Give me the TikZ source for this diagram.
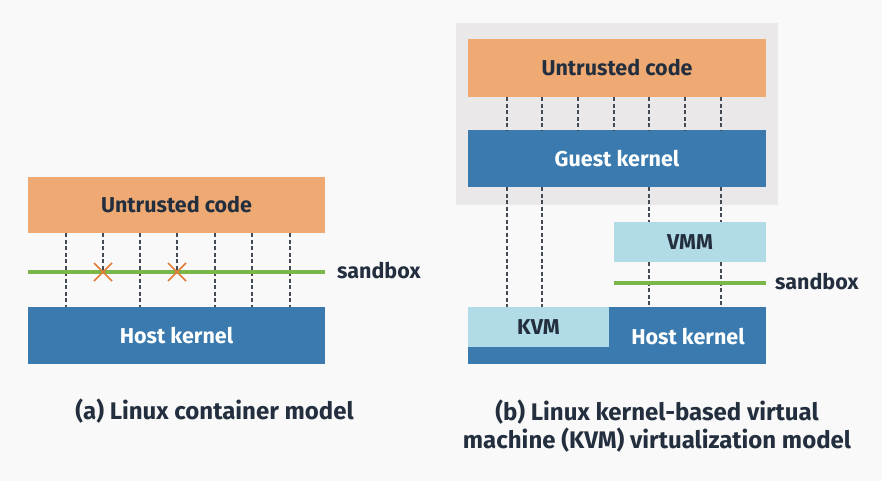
\documentclass[tikz,border=0pt]{standalone}
\usepackage{fontspec}
\setmainfont{Fira Sans}
\usetikzlibrary{calc}
\definecolor{pagebg}{HTML}{F9F9F9}
\definecolor{orangebox}{HTML}{EEAA72}
\definecolor{bluebox}{HTML}{3A7AAF}
\definecolor{lightbox}{HTML}{B1DCE7}
\definecolor{greybg}{HTML}{EAE8E8}
\definecolor{sandgreen}{HTML}{7AB648}
\definecolor{crossorange}{HTML}{E07B3A}
\definecolor{darktext}{HTML}{232F3E}
\definecolor{dashgrey}{HTML}{454B55}
\begin{document}
\begin{tikzpicture}[x=1pt,y=-1pt,
  box/.style={rectangle,inner sep=0pt,draw=none,font=\fontsize{21.5}{24}\selectfont\bfseries},
  untrusted/.style={box,fill=orangebox,text=darktext},
  kernel/.style={box,fill=bluebox,text=white},
  lightb/.style={box,fill=lightbox,text=darktext},
  lbl/.style={inner sep=0pt,font=\fontsize{21.5}{24}\selectfont\bfseries,text=darktext},
  captext/.style={inner sep=0pt,align=center,font=\fontsize{24}{28}\selectfont\bfseries,text=darktext},
  call/.style={draw=dashgrey,line width=1.2pt,dash pattern=on 4pt off 2.5pt},
  sand/.style={draw=sandgreen,line width=3.2pt},
  cross/.style={draw=crossorange,line width=1.6pt}]
\fill[pagebg] (0,0) rectangle (882,481);
\useasboundingbox (0,0) rectangle (882,481);

% ---------- (a) ----------
\node[untrusted,minimum width=297pt,minimum height=56pt] (ua) at (176.5,205) {Untrusted code};
\node[kernel,minimum width=297pt,minimum height=57pt] (hka) at (176.5,335.5) {Host kernel};
\coordinate (sal) at (28,272);
\coordinate (sar) at (325,272);
\node[lbl,anchor=west] (sba) at (337,271) {sandbox};
\foreach \i/\x in {1/66,3/140,5/215,6/252,7/290}{
  \coordinate (ca\i) at (\x,0);
  \draw[call] (ua.south -| ca\i) -- (hka.north -| ca\i);
}
\draw[sand] (sal) -- (sar);
\foreach \i/\x in {2/103,4/177}{
  \coordinate (xa\i) at (\x,272);
  \draw[call] (ua.south -| xa\i) -- (xa\i);
  \draw[cross] ($(xa\i)+(-9,-9)$) -- ($(xa\i)+(9,9)$);
  \draw[cross] ($(xa\i)+(-9,9)$) -- ($(xa\i)+(9,-9)$);
}
\node[captext] (capa) at (214.5,411) {(a) Linux container model};

% ---------- (b) ----------
\node[rectangle,fill=greybg,minimum width=322pt,minimum height=182pt,inner sep=0pt] (vm) at (617,114) {};
\node[untrusted,minimum width=298pt,minimum height=58pt] (ub) at (617,68) {Untrusted code};
\node[kernel,minimum width=298pt,minimum height=57pt] (gk) at (617,158.5) {Guest kernel};
\node[lightb,minimum width=152pt,minimum height=40pt] (vmm) at (690,242) {VMM};
\node[rectangle,fill=bluebox,minimum width=298pt,minimum height=57pt,inner sep=0pt] (hkb) at (617,335.5) {};
\node[lightb,minimum width=141pt,minimum height=40pt] (kvm) at (538.5,327) {KVM};
\node[kernel,fill=none] (hkt) at (688,337) {Host kernel};
\foreach \i/\x in {1/507,2/542,3/578,4/614,5/649,6/685,7/721}{
  \coordinate (cb\i) at (\x,0);
  \draw[call] (ub.south -| cb\i) -- (gk.north -| cb\i);
}
\foreach \i in {1,2}{
  \draw[call] (gk.south -| cb\i) -- (kvm.north -| cb\i);
}
\foreach \i in {5,7}{
  \draw[call] (gk.south -| cb\i) -- (vmm.north -| cb\i);
  \draw[call] (vmm.south -| cb\i) -- (hkb.north -| cb\i);
}
\coordinate (sbl) at (614,283);
\coordinate (sbr) at (766,283);
\draw[sand] (sbl) -- (sbr);
\node[lbl,anchor=west] (sbb) at (775,282) {sandbox};
\node[captext] (capb) at (657,426) {(b) Linux kernel-based virtual\\machine (KVM) virtualization model};
\end{tikzpicture}
\end{document}
